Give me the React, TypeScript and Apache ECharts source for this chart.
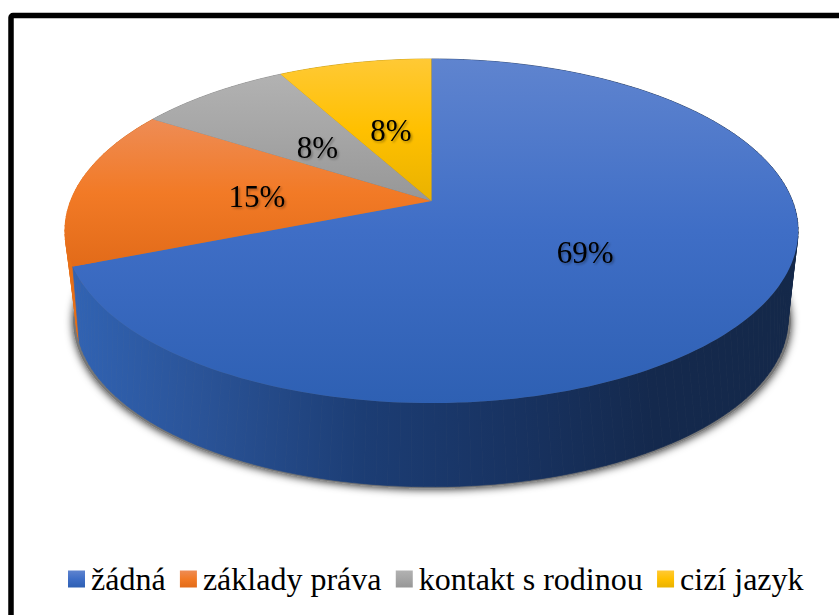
import React, { useEffect, useRef } from "react";
import * as echarts from "echarts";

const categories = ["žádná", "základy práva", "kontakt s rodinou", "cizí jazyk"];
const percentValues = [69, 15, 8, 8];
const percentLabels = ["69%", "15%", "8%", "8%"];

const FONT = '"Liberation Serif", "Times New Roman", serif';
const toStops = (stops: [number, string][]) => stops.map(([offset, color]) => ({ offset, color }));
const faceGrad = (stops: [number, string][]) => new echarts.graphic.LinearGradient(0, 0, 0, 1, toStops(stops));

const faceStops: [number, string][][] = [
  [[0, "#5F84CF"], [0.5, "#3F6EC6"], [1, "#2E60B3"]],
  [[0, "#EE8C55"], [0.5, "#F27A26"], [1, "#E26B19"]],
  [[0, "#B2B2B2"], [0.5, "#A5A5A5"], [1, "#979797"]],
  [[0, "#FFC935"], [0.5, "#FFC000"], [1, "#E9B200"]],
];
const wallStops: [number, string][][] = [
  [[0, "#3163B3"], [0.18, "#2A5397"], [0.4, "#1C3D74"], [0.6, "#183362"], [0.8, "#14294D"], [1, "#142849"]],
  [[0, "#E87018"], [1, "#C55D12"]],
  [[0, "#7F7F7F"], [1, "#7F7F7F"]],
  [[0, "#BF9000"], [1, "#BF9000"]],
];

const top = { cx: 431.5, cy: 201, R: 361, S: 166.8, k: 0.1744 };
const bottom = { cx: 432, cy: 278, R: 344.6, S: 156.6, k: 0.25 };
const shadowDisc = { cx: 432, cy: 279, R: 347.5, S: 157, k: 0.25 };
const total = percentValues.reduce((a, b) => a + b, 0);

type Disc = typeof top;
const project = (d: Disc, theta: number, r = 1): number[] => {
  const s = Math.sin(theta);
  const c = Math.cos(theta);
  const w = 1 + d.k * r * c;
  return [d.cx + (d.R * r * s) / w, d.cy - (d.S * r * c) / w];
};
const sliceRange = (index: number) => {
  const before = percentValues.slice(0, index).reduce((a, b) => a + b, 0);
  const a = (before / total) * Math.PI * 2;
  return [a, a + (percentValues[index] / total) * Math.PI * 2];
};
const arc = (d: Disc, a: number, b: number) => {
  const n = Math.max(4, Math.ceil(((b - a) / (Math.PI * 2)) * 240));
  const pts: number[][] = [];
  for (let i = 0; i <= n; i++) pts.push(project(d, a + ((b - a) * i) / n));
  return pts;
};

export default function App() {
  const ref = useRef<HTMLDivElement>(null);
  useEffect(() => {
    document.body.style.margin = "0";
    const chart = echarts.init(ref.current!, null, { renderer: "svg" });

    const shadowSeries = {
      type: "custom",
      coordinateSystem: "none",
      silent: true,
      z: 1,
      data: [total],
      renderItem: () => ({
        type: "polygon",
        shape: { points: arc(shadowDisc, 0, Math.PI * 2) },
        style: { fill: "#777777", shadowBlur: 9, shadowColor: "rgba(0,0,0,0.85)", shadowOffsetX: 0, shadowOffsetY: 1 },
      }),
    };

    const wallSeries = percentValues
      .map((v, i) => ({
        type: "custom",
        coordinateSystem: "none",
        silent: true,
        z: 2 + (percentValues.length - i) / 10,
        data: [v],
        renderItem: () => {
          const [a, b] = sliceRange(i);
          const t = arc(top, a, b);
          const u = arc(bottom, a, b);
          const xs = [...t, ...u].map((p) => p[0]);
          const fill = new echarts.graphic.LinearGradient(
            Math.min(...xs), 0, Math.max(...xs), 0, toStops(wallStops[i]), true
          );
          return {
            type: "group",
            children: t.slice(0, -1).map((p, j) => ({
              type: "polygon",
              shape: { points: [p, t[j + 1], u[j + 1], u[j]] },
              style: { fill, stroke: fill, lineWidth: 0.7 },
            })),
          };
        },
      }))
      .reverse();

    const faceSeries = percentValues.map((v, i) => ({
      type: "custom",
      name: categories[i],
      coordinateSystem: "none",
      silent: true,
      z: 4,
      itemStyle: { color: faceGrad(faceStops[i]) },
      data: [v],
      renderItem: () => {
        const [a, b] = sliceRange(i);
        return {
          type: "polygon",
          shape: { points: [project(top, 0, 0), ...arc(top, a, b)] },
          style: { fill: faceGrad(faceStops[i]) },
        };
      },
    }));

    const labelSeries = percentValues.map((v, i) => ({
      type: "custom",
      coordinateSystem: "none",
      silent: true,
      z: 5,
      data: [v],
      renderItem: () => {
        const [a, b] = sliceRange(i);
        const [x, y] = project(top, (a + b) / 2, 0.49);
        return {
          type: "text",
          x,
          y: y + 3,
          style: {
            text: percentLabels[i],
            font: `31px ${FONT}`,
            fill: "#000000",
            textAlign: "center",
            textVerticalAlign: "middle",
            textShadowColor: "rgba(0,0,0,0.35)",
            textShadowBlur: 2,
            textShadowOffsetX: 1.5,
            textShadowOffsetY: 1.5,
          },
        };
      },
    }));

    chart.setOption({
      animation: false,
      backgroundColor: "#ffffff",
      tooltip: { show: false },
      legend: {
        data: categories,
        left: 68,
        top: 563,
        padding: 0,
        itemWidth: 17,
        itemHeight: 17,
        itemGap: 14.3,
        icon: "rect",
        selectedMode: false,
        textStyle: { fontFamily: FONT, fontSize: 32, color: "#000000", padding: [0, 0, 0, 1] },
      },
      graphic: [
        {
          type: "rect",
          silent: true,
          shape: { x: 11, y: 15.5, width: 1000, height: 800, r: 2 },
          style: { fill: "none", stroke: "#000000", lineWidth: 5.5 },
        },
      ],
      series: [shadowSeries, ...wallSeries, ...faceSeries, ...labelSeries],
    });
    return () => chart.dispose();
  }, []);
  return <div ref={ref} style={{ width: 839, height: 615 }} />;
}
